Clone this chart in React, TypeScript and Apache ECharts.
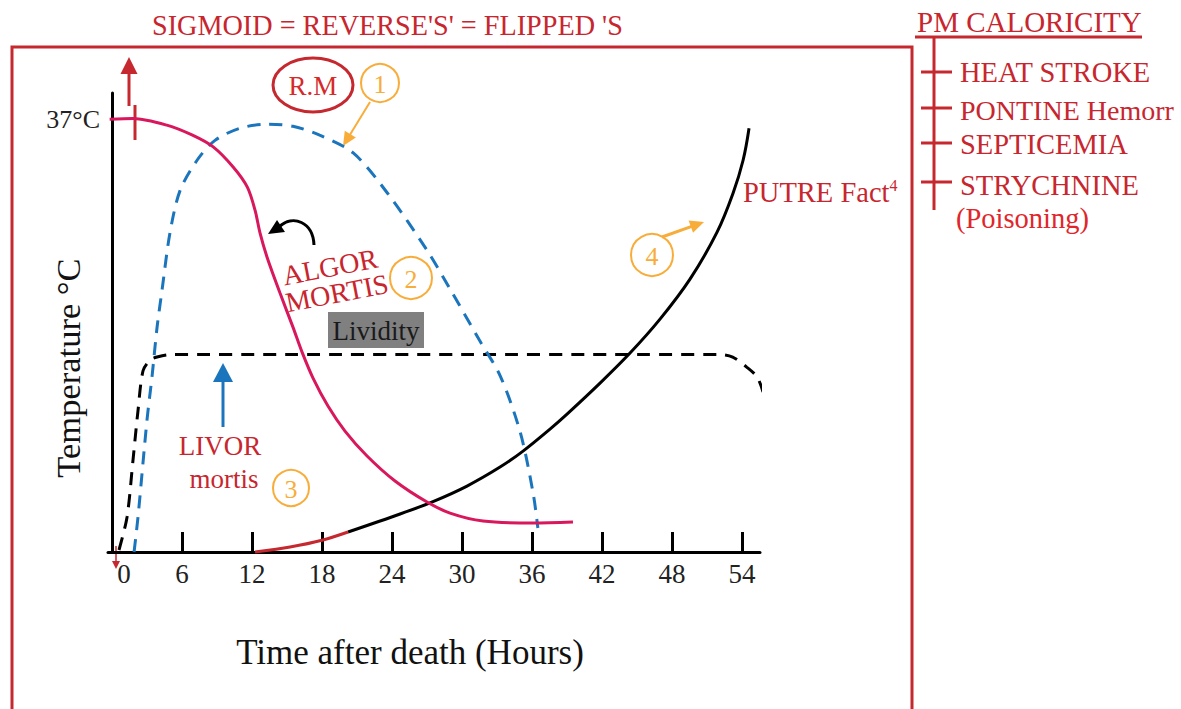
import React, { useEffect, useRef } from "react";
import * as echarts from "echarts";

// ---------- DATA ----------
const xTickValues = [6, 12, 18, 24, 30, 36, 42, 48, 54];
const xLabelValues = [0, 6, 12, 18, 24, 30, 36, 42, 48, 54];
const yLabelValues = [37];

// Algor mortis (body temperature) [hours, value]
const algorMortis = [
  [-0.2, 37.0], [1.8, 37.07], [4.7, 36.5], [6.9, 35.64], [8.7, 34.62], [10.4, 32.9],
  [11.6, 31.2], [12.26, 29.23], [12.69, 27.26], [13.29, 25.21], [14.4, 22.14], [15.51, 19.23],
  [16.29, 17.09], [17.23, 14.87], [18.51, 12.48], [19.97, 10.34], [21.86, 8.21], [24.26, 6.07],
  [27.0, 4.27], [28.97, 3.33], [31.8, 2.65], [36.09, 2.48], [39.51, 2.56],
];

// Rigor mortis (blue dashed)
const rigorMortis = [
  [1.89, 0], [2.23, 3.0], [3.0, 11.3], [3.43, 15.0], [3.86, 19.2], [4.29, 22.4],
  [4.97, 27.3], [5.83, 30.9], [7.29, 33.5], [8.83, 35.2], [10.97, 36.24], [13.3, 36.58],
  [15.5, 36.41], [17.8, 35.64], [20.7, 34.1], [23.6, 30.7], [27.0, 25.8], [29.2, 22.1],
  [31.5, 18.1], [33.3, 15.0], [35.0, 10.2], [36.1, 5.0], [36.5, 2.05],
];

// Livor mortis / lividity (black dashed)
const livorMortis = [
  [0.6, 0.17], [1.29, 3.0], [1.8, 7.86], [2.23, 12.1], [2.66, 15.5], [3.26, 16.4],
  [3.86, 16.67], [4.97, 16.88], [15, 16.88], [30, 16.88], [45, 16.88], [52.1, 16.88],
  [53.2, 16.67], [54.4, 15.81], [55.3, 14.96], [55.8, 13.68],
];

// Putrefaction (black solid), early part drawn red
const putrefactionEarly = [
  [12.26, 0], [15.26, 0.43], [18.09, 1.03], [20.23, 1.71],
];
const putrefaction = [
  [20.23, 1.71], [24.69, 3.25], [27.51, 4.31], [30.43, 5.64], [33.26, 7.26], [35.23, 8.63],
  [37.54, 10.51], [39.0, 11.79], [41.83, 14.44], [44.4, 17.01], [46.97, 19.91], [49.54, 23.33],
  [51.86, 27.35], [53.23, 30.68], [54.09, 33.5], [54.6, 36.24],
];

// ---------- STYLE ----------
const FONT = '"Liberation Serif", "Times New Roman", serif';
const RED = "#c8262e";
const FRAME = "#c5282f";
const CRIMSON = "#d8175d";
const BLUE = "#1b75bc";
const ORANGE = "#f8ad3a";

function arrow(x1: number, y1: number, x2: number, y2: number, color: string, lw: number, hl: number, hw: number) {
  const dx = x2 - x1, dy = y2 - y1, L = Math.hypot(dx, dy);
  const ux = dx / L, uy = dy / L;
  const bx = x2 - ux * hl, by = y2 - uy * hl;
  const px = -uy, py = ux;
  return [
    { type: "line", shape: { x1, y1, x2: bx + ux, y2: by + uy }, style: { stroke: color, lineWidth: lw } },
    {
      type: "polygon",
      shape: { points: [[x2, y2], [bx + (px * hw) / 2, by + (py * hw) / 2], [bx - (px * hw) / 2, by - (py * hw) / 2]] },
      style: { fill: color },
    },
  ];
}

function badge(cx: number, cy: number, r: number, label: string) {
  return [
    { type: "circle", shape: { cx, cy, r }, style: { fill: "none", stroke: ORANGE, lineWidth: 2 } },
    {
      type: "text", x: cx, y: cy + 1,
      style: { text: label, fill: ORANGE, fontSize: 26, fontFamily: FONT, align: "center", verticalAlign: "middle" },
    },
  ];
}

function txt(x: number, y: number, text: string, fill: string, fontSize: number, extra: any = {}, align = "left") {
  return {
    type: "text", x, y, ...extra,
    style: { text, fill, fontSize, fontFamily: FONT, align, verticalAlign: "middle" },
  };
}

export default function App() {
  const ref = useRef<HTMLDivElement>(null);
  useEffect(() => {
    if (!ref.current) return;
    const chart = echarts.init(ref.current, null, { renderer: "svg" });

    const lineSeries = (name: string, data: number[][], color: string, dashed: boolean, z = 2) => ({
      name,
      type: "line",
      data,
      smooth: 0.3,
      showSymbol: false,
      symbol: "none",
      clip: false,
      z,
      lineStyle: { color, width: 3, type: dashed ? [13, 9] : "solid", cap: "butt" },
    });

    const graphics: any[] = [
      // frame
      {
        type: "polyline",
        shape: { points: [[12, 740], [12, 47], [912, 47], [912, 740]] },
        style: { stroke: FRAME, lineWidth: 3, fill: "none" },
      },
      // title
      {
        type: "text", x: 152, y: 25,
        style: { text: "SIGMOID = REVERSE'S' = FLIPPED 'S", fill: RED, fontSize: 30, fontFamily: FONT, align: "left", verticalAlign: "middle" },
        scaleX: 0.94,
      },
      // right panel
      txt(917, 22, "PM CALORICITY", RED, 29),
      { type: "line", shape: { x1: 915, y1: 37, x2: 1142, y2: 37 }, style: { stroke: FRAME, lineWidth: 3 } },
      { type: "line", shape: { x1: 934, y1: 37, x2: 934, y2: 210 }, style: { stroke: FRAME, lineWidth: 3 } },
      ...[72, 108, 143, 182].map((y) => ({
        type: "line", shape: { x1: 921, y1: y, x2: 952, y2: y }, style: { stroke: FRAME, lineWidth: 3 },
      })),
      txt(960, 72, "HEAT STROKE", RED, 28.5),
      txt(960, 110, "PONTINE Hemorr", RED, 28),
      txt(960, 144, "SEPTICEMIA", RED, 28.5),
      txt(960, 185, "STRYCHNINE", RED, 28.5),
      txt(956, 218, "(Poisoning)", "#e0262b", 28.5),
      // axis titles
      txt(68, 368, "Temperature °C", "#111", 34.5, { rotation: Math.PI / 2 }, "center"),
      txt(410, 652, "Time after death (Hours)", "#111", 35, {}, "center"),
      // red up arrow and tick at 37°C
      ...arrow(129, 106, 129, 57, FRAME, 3, 17, 17),
      { type: "line", shape: { x1: 135, y1: 105, x2: 135, y2: 140 }, style: { stroke: FRAME, lineWidth: 3 } },
      // small red down arrow at origin
      ...arrow(116, 546, 116, 569, FRAME, 1.5, 8, 8),
      // R.M ellipse
      { type: "ellipse", shape: { cx: 313, cy: 85, rx: 40, ry: 27 }, style: { fill: "none", stroke: FRAME, lineWidth: 3 } },
      txt(313, 86, "R.M", "#d42a2a", 27, {}, "center"),
      ...badge(380, 83, 19, "1"),
      ...arrow(370, 102, 343, 146, ORANGE, 2, 14, 13),
      // black curved arrow
      {
        type: "bezierCurve",
        shape: { x1: 314, y1: 245, cpx1: 313, cpy1: 222, cpx2: 293, cpy2: 214, x2: 279, y2: 227 },
        style: { stroke: "#000", lineWidth: 3, fill: "none" },
      },
      { type: "polygon", shape: { points: [[268, 234], [277, 220], [285, 232]] }, style: { fill: "#000" } },
      // ALGOR MORTIS
      txt(330, 267, "ALGOR", RED, 28, { rotation: 0.19 }, "center"),
      txt(337, 293, "MORTIS", RED, 28, { rotation: 0.19 }, "center"),
      ...badge(411, 278, 21, "2"),
      // Lividity box
      { type: "rect", shape: { x: 328, y: 312, width: 96, height: 36 }, style: { fill: "#808080" } },
      txt(376, 331, "Lividity", "#1a1a1a", 27, {}, "center"),
      // LIVOR mortis
      ...arrow(223, 427, 223, 363, BLUE, 3, 19, 20),
      txt(220, 446, "LIVOR", RED, 27, {}, "center"),
      txt(224, 479, "mortis", RED, 27, {}, "center"),
      ...badge(291, 488, 18, "3"),
      // putrefaction
      ...badge(652, 255, 21, "4"),
      ...arrow(662, 237, 704, 222, ORANGE, 3, 14, 13),
      {
        type: "text", x: 743, y: 192,
        style: {
          text: "PUTRE Fact{sup|4}", fill: RED, fontSize: 28.5, fontFamily: FONT, align: "left", verticalAlign: "middle",
          rich: { sup: { fontSize: 16, fill: RED, fontFamily: FONT, verticalAlign: "top", padding: [0, 0, 12, 0] } },
        },
      },
    ];

    chart.setOption({
      animation: false,
      backgroundColor: "#ffffff",
      grid: { left: 108, top: 93, width: 652, height: 459, containLabel: false, outerBoundsMode: "none" },
      xAxis: {
        type: "value",
        min: -0.343,
        max: 55.54,
        axisLine: { show: true, lineStyle: { color: "#000", width: 3 } },
        axisTick: { show: true, inside: true, length: 20, lineStyle: { color: "#000", width: 3 }, customValues: xTickValues },
        axisLabel: {
          show: true, customValues: xLabelValues, fontSize: 27, color: "#222", fontFamily: FONT, margin: 8,
          formatter: (v: number) => (v === 0 ? "{z|0}" : String(v)),
          rich: { z: { fontSize: 27, color: "#222", fontFamily: FONT, padding: [0, 0, 0, 24] } },
        },
        splitLine: { show: false },
      },
      yAxis: {
        type: "value",
        min: 0,
        max: 39.25,
        axisLine: { show: true, lineStyle: { color: "#000", width: 3 } },
        axisTick: { show: false },
        axisLabel: {
          show: true, customValues: yLabelValues, fontSize: 26, color: "#222", fontFamily: FONT, margin: 8,
          formatter: (v: number) => `${v}°C`,
        },
        splitLine: { show: false },
      },
      series: [
        lineSeries("Livor mortis", livorMortis, "#000", true, 2),
        lineSeries("Rigor mortis", rigorMortis, BLUE, true, 3),
        lineSeries("Putrefaction", putrefaction, "#000", false, 4),
        lineSeries("Putrefaction (early)", putrefactionEarly, FRAME, false, 4),
        lineSeries("Algor mortis", algorMortis, CRIMSON, false, 5),
      ],
      graphic: graphics,
    });
    return () => chart.dispose();
  }, []);
  return <div ref={ref} style={{ position: "fixed", left: 0, top: 0, width: 1181, height: 709 }} />;
}
